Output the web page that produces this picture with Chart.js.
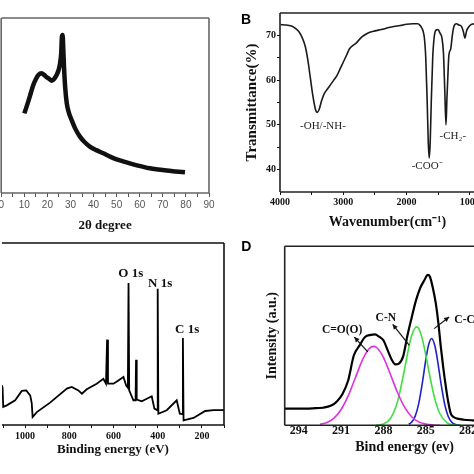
<!DOCTYPE html>
<html><head><meta charset="utf-8">
<script src="https://cdn.jsdelivr.net/npm/chart.js@4"></script>
<style>
html,body{margin:0;padding:0;background:#fff;overflow:hidden;width:474px;height:474px;position:relative}
canvas{position:absolute}
</style></head><body>
<canvas id="ca" width="257" height="237" style="left:-20px;top:0px"></canvas>
<canvas id="cb" width="300" height="237" style="left:237px;top:0px"></canvas>
<canvas id="cc" width="257" height="237" style="left:-20px;top:237px"></canvas>
<canvas id="cd" width="300" height="237" style="left:237px;top:237px"></canvas>
<script>
// ---------- Panel A : XRD ----------
const aTheta = [10.0, 10.8, 11.7, 12.8, 13.9, 15.0, 16.1, 17.5, 18.6, 19.7, 20.8, 21.9, 23.0, 24.0, 24.8, 25.5, 26.0, 26.3, 26.6, 26.9, 27.2, 27.7, 28.4, 29.4, 30.5, 32.2, 34.1, 36.2, 38.4, 41.2, 44.2, 47.0, 50.0, 53.5, 57.2, 60.8, 64.4, 68.0, 71.6, 75.5, 79.6];
const aIntensity = [45.5, 48.5, 52.2, 57.0, 61.7, 65.0, 67.4, 68.4, 67.5, 66.1, 65.2, 64.2, 65.3, 67.4, 70.0, 74.1, 80.0, 89.3, 90.3, 82.0, 72.2, 60.5, 51.2, 45.5, 41.7, 36.5, 32.2, 29.0, 26.5, 24.5, 22.7, 20.9, 19.2, 17.8, 16.4, 15.2, 14.1, 13.4, 12.8, 12.3, 11.8];
const aTicks = [0,5,10,15,20,25,30,35,40,45,50,55,60,65,70,75,80,85,90];
const aTickLabels = ['0','','10','','20','','30','','40','','50','','60','','70','','80','','90'];

// ---------- Panel B : FTIR ----------
const bWavenumber = [3990, 3900, 3800, 3750, 3700, 3650, 3600, 3560, 3520, 3480, 3440, 3410, 3380, 3340, 3300, 3250, 3200, 3150, 3100, 3050, 3000, 2950, 2900, 2850, 2800, 2750, 2700, 2650, 2600, 2500, 2400, 2340, 2300, 2200, 2100, 2000, 1900, 1820, 1790, 1760, 1720, 1695, 1672, 1655, 1640, 1625, 1608, 1585, 1560, 1530, 1500, 1470, 1440, 1415, 1395, 1375, 1360, 1345, 1330, 1300, 1275, 1250, 1210, 1170, 1130, 1100, 1075, 1050, 1020, 980, 930];
const bTransmittance = [72.4, 72.3, 72.0, 71.5, 70.8, 69.5, 67.5, 64.5, 60.5, 56.5, 53.5, 52.8, 53.5, 55.5, 57.0, 58.0, 59.0, 60.0, 61.0, 62.5, 64.0, 65.5, 67.0, 67.7, 68.2, 69.0, 69.7, 70.2, 70.6, 71.0, 71.3, 71.5, 71.7, 72.0, 72.2, 72.5, 72.6, 72.6, 72.3, 71.7, 69.8, 65.0, 55.0, 46.0, 42.6, 46.0, 55.0, 65.0, 69.8, 71.2, 71.3, 70.5, 69.5, 66.0, 58.0, 50.0, 56.0, 61.0, 65.5, 67.0, 70.0, 72.0, 72.6, 72.3, 72.0, 70.8, 69.4, 71.0, 71.8, 72.4, 72.6];
const bXTicks = [4000,3500,3000,2500,2000,1500,1000];
const bXTickLabels = ['4000','','3000','','2000','','1000'];
const bYTicks = [40,45,50,55,60,65,70];
const bYTickLabels = ['40','','50','','60','','70'];
const bPeakNames = ['-OH/-NH-','-COO\u207B','-CH\u2082-'];
const bPeakX = [3321, 1673, 1267];
const bPeakY = [49.7, 40.7, 47.6];

// ---------- Panel C : XPS survey ----------
const cEnergy = [1105, 1102, 1099, 1083, 1045, 1015, 995, 977, 970, 966, 947, 887, 811, 789, 759, 743, 721, 676, 646, 634, 629, 625, 600, 578, 555, 543, 535, 532, 529, 510, 500, 498, 495, 472, 427, 415, 403, 400, 397, 359, 314, 300, 288, 286, 283, 238, 185, 147, 100];
const cCounts = [21.8, 20.5, 10.0, 10.8, 13.6, 18.7, 19.0, 16.3, 12.0, 4.4, 7.1, 12.3, 20.0, 20.9, 19.0, 17.2, 19.6, 22.7, 25.4, 22.7, 46.9, 22.7, 22.7, 24.5, 26.4, 21.8, 20.5, 78.0, 19.0, 13.6, 13.6, 35.9, 14.0, 13.0, 15.8, 9.0, 8.2, 74.9, 6.2, 8.1, 13.6, 6.2, 6.0, 47.8, 2.6, 3.9, 7.7, 8.2, 8.2];
const cTicks = [1100,1000,900,800,700,600,500,400,300,200,100];
const cTickLabels = ['','1000','','800','','600','','400','','200',''];
const cPeakNames = ['O 1s','N 1s','C 1s'];
const cPeakX = [522, 389, 267];
const cPeakY = [83.0, 77.6, 52.4];

// ---------- Panel D : C1s high resolution ----------
const dEnergy = [295.1, 294.0, 293.0, 292.3, 291.7, 291.3, 290.9, 290.5, 290.1, 289.7, 289.3, 288.9, 288.6, 288.3, 288.0, 287.7, 287.4, 287.15, 286.9, 286.6, 286.3, 286.0, 285.7, 285.4, 285.1, 284.85, 284.7, 284.5, 284.28, 284.1, 283.93, 283.75, 283.57, 283.4, 283.22, 283.0, 282.75, 282.3, 281.7, 280.0, 278.0];
const dEnvelope = [9.3, 9.3, 9.5, 9.8, 11.0, 13.3, 17.5, 25.0, 39.0, 44.5, 49.3, 50.5, 50.8, 49.5, 47.5, 42.0, 36.5, 34.0, 34.5, 38.5, 50.0, 60.0, 69.5, 76.5, 81.0, 84.0, 83.0, 77.0, 68.0, 57.0, 44.0, 32.0, 21.5, 13.0, 6.5, 4.5, 3.7, 3.1, 2.8, 2.5, 2.4];
const dCOEnergy = [292.5, 292.0, 291.5, 291.0, 290.5, 290.0, 289.5, 289.0, 288.7, 288.5, 288.0, 287.5, 287.0, 286.5, 286.0, 285.5, 285.0, 284.5, 284.0];
const dCO = [0.5, 1.6, 4.0, 8.8, 16.4, 26.3, 36.3, 42.9, 44.1, 43.6, 38.0, 28.4, 18.3, 10.1, 4.8, 1.9, 0.7, 0.2, 0.0];
const dCNEnergy = [288.5, 288.0, 287.5, 287.0, 286.5, 286.25, 286.0, 285.65, 285.5, 285.25, 285.0, 284.75, 284.5, 284.25, 284.0, 283.5, 283.0, 282.5];
const dCN = [0.1, 0.7, 3.8, 13.2, 31.3, 41.5, 50.0, 55.0, 54.1, 48.5, 39.5, 29.2, 19.6, 11.9, 6.6, 1.5, 0.2, 0.0];
const dCCEnergy = [286.2, 286.0, 285.75, 285.5, 285.25, 285.0, 284.8, 284.58, 284.35, 284.15, 283.9, 283.65, 283.4, 283.15, 282.9, 282.6];
const dCC = [0.6, 1.7, 5.0, 12.0, 23.1, 36.2, 44.8, 48.5, 44.4, 35.7, 22.6, 11.6, 4.9, 1.7, 0.5, 0.0];
const dTicks = [294, 291, 288, 285, 282, 279];
const dTickLabels = ['294','291','288','285','282','279'];
const dPeakNames = ['C=O(O)','C-N','C-C'];
const dPeakX = [290.93, 287.83, 282.97];
const dPeakY = [53.1, 60.0, 58.7];
const dPeakAlign = ['center','center','left'];
const dArrowTailX = [289.11, 286.16, 284.4];
const dArrowTailY = [41.0, 44.7, 54.0];
const dArrowHeadX = [290.06, 287.34, 283.34];
const dArrowHeadY = [49.3, 56.4, 60.5];

// ---------- helpers ----------
const SERIF = 'Liberation Serif';
const pts = (xs, ys) => xs.map((x, i) => ({x: x, y: ys[i]}));

function deco(cfg) {
  return {
    id: 'deco',
    afterDatasetsDraw(chart) {
      const ctx = chart.ctx, a = chart.chartArea;
      const xs = chart.scales.x, ys = chart.scales.y;
      ctx.save();
      if (cfg.frame) {
        const s = cfg.frame.sides;
        ctx.strokeStyle = cfg.frame.color; ctx.lineWidth = cfg.frame.width;
        ctx.beginPath();
        if (s.includes('t')) { ctx.moveTo(a.left, a.top); ctx.lineTo(a.right, a.top); }
        if (s.includes('r')) { ctx.moveTo(a.right, a.top); ctx.lineTo(a.right, a.bottom); }
        if (s.includes('b')) { ctx.moveTo(a.left, a.bottom); ctx.lineTo(a.right, a.bottom); }
        if (s.includes('l')) { ctx.moveTo(a.left, a.top); ctx.lineTo(a.left, a.bottom); }
        ctx.stroke();
      }
      (cfg.labels || []).forEach(l => {
        ctx.font = l.font; ctx.fillStyle = l.color || '#000';
        ctx.textAlign = l.align || 'center'; ctx.textBaseline = 'middle';
        ctx.fillText(l.text, xs.getPixelForValue(l.x), ys.getPixelForValue(l.y));
      });
      (cfg.arrows || []).forEach(r => {
        const x1 = xs.getPixelForValue(r.tx), y1 = ys.getPixelForValue(r.ty);
        const x2 = xs.getPixelForValue(r.hx), y2 = ys.getPixelForValue(r.hy);
        ctx.strokeStyle = '#111'; ctx.fillStyle = '#111'; ctx.lineWidth = 1.2;
        ctx.beginPath(); ctx.moveTo(x1, y1); ctx.lineTo(x2, y2); ctx.stroke();
        const ang = Math.atan2(y2 - y1, x2 - x1), L = 5, W = 2.5;
        ctx.beginPath();
        ctx.moveTo(x2, y2);
        ctx.lineTo(x2 - L * Math.cos(ang) + W * Math.sin(ang), y2 - L * Math.sin(ang) - W * Math.cos(ang));
        ctx.lineTo(x2 - L * Math.cos(ang) - W * Math.sin(ang), y2 - L * Math.sin(ang) + W * Math.cos(ang));
        ctx.closePath(); ctx.fill();
      });
      if (cfg.letter) {
        ctx.font = 'bold 14px Liberation Sans'; ctx.fillStyle = '#000';
        ctx.textAlign = 'center'; ctx.textBaseline = 'middle';
        ctx.fillText(cfg.letter.text, cfg.letter.x, cfg.letter.y);
      }
      ctx.restore();
    }
  };
}

function xAxis(o) {
  return {
    type: 'linear', min: o.min, max: o.max, reverse: !!o.reverse,
    afterBuildTicks: s => { s.ticks = o.ticks.map(v => ({value: v})); },
    afterFit: s => { s.height = o.height; },
    ticks: { autoSkip: false, maxRotation: 0, padding: o.pad,
      font: o.tickFont, color: o.tickColor || '#111',
      callback: (v, i) => o.labels[i] },
    grid: { display: true, drawOnChartArea: false, drawTicks: o.tickLen > 0,
      tickLength: o.tickLen, tickColor: o.tickColor || '#111', tickWidth: 1 },
    border: { display: false },
    title: { display: true, text: o.title, font: o.titleFont, color: '#111',
      padding: {top: 0, bottom: o.titlePad} }
  };
}

Chart.defaults.animation = false;
Chart.defaults.plugins.legend.display = false;
Chart.defaults.plugins.tooltip.enabled = false;

// ---------- Chart A ----------
new Chart(document.getElementById('ca'), {
  type: 'line',
  data: { datasets: [{ data: pts(aTheta, aIntensity), borderColor: '#111', borderWidth: 4.5,
    pointRadius: 0, cubicInterpolationMode: 'monotone' }] },
  options: {
    responsive: false,
    layout: { padding: { left: 21.2, right: 28, top: 18, bottom: 0 } },
    scales: {
      x: xAxis({ min: 0, max: 90, ticks: aTicks, labels: aTickLabels, height: 44, pad: 2,
        tickLen: 4, tickColor: '#555', tickFont: { family: 'Liberation Sans', size: 10 },
        title: '2\u03B8 degree', titleFont: { family: SERIF, size: 13, weight: 'bold' }, titlePad: 4 }),
      y: { display: false, min: 0, max: 100 }
    }
  },
  plugins: [deco({ frame: { sides: 'trbl', color: '#666', width: 1.6 } })]
});

// ---------- Chart B ----------
new Chart(document.getElementById('cb'), {
  type: 'line',
  data: { datasets: [{ data: pts(bWavenumber, bTransmittance), borderColor: '#1a1a1a', borderWidth: 1.6,
    pointRadius: 0, cubicInterpolationMode: 'monotone' }] },
  options: {
    responsive: false,
    layout: { padding: { left: 0, right: 42, top: 13, bottom: 0 } },
    scales: {
      x: xAxis({ min: 600, max: 4000, reverse: true, ticks: bXTicks, labels: bXTickLabels, height: 45, pad: 1,
        tickLen: 3, tickFont: { family: SERIF, size: 10, weight: 'bold' },
        title: 'Wavenumber(cm\u207B\u00B9)', titleFont: { family: SERIF, size: 14, weight: 'bold' }, titlePad: 6 }),
      y: {
        min: 35, max: 75,
        afterBuildTicks: s => { s.ticks = bYTicks.map(v => ({value: v})); },
        afterFit: s => { s.width = 43; },
        ticks: { padding: 1, font: { family: SERIF, size: 10, weight: 'bold' }, color: '#111',
          callback: (v, i) => bYTickLabels[i] },
        grid: { display: true, drawOnChartArea: false, tickLength: 3, tickColor: '#111' },
        border: { display: false },
        title: { display: true, text: 'Transmittance(%)', font: { family: SERIF, size: 15, weight: 'bold' },
          color: '#111', padding: { top: 6, bottom: 0 } }
      }
    }
  },
  plugins: [deco({ frame: { sides: 'tlb', color: '#222', width: 1.6 },
    labels: bPeakNames.map((t, i) => ({ text: t, x: bPeakX[i], y: bPeakY[i], font: '11px Liberation Serif', color: '#222' })),
    letter: { text: 'B', x: 9, y: 20 } })]
});

// ---------- Chart C ----------
new Chart(document.getElementById('cc'), {
  type: 'line',
  data: { datasets: [{ data: pts(cEnergy, cCounts), borderColor: '#000', borderWidth: 1.8,
    pointRadius: 0, tension: 0 }] },
  options: {
    responsive: false,
    layout: { padding: { left: 21.9, right: 13, top: 6, bottom: 0 } },
    scales: {
      x: xAxis({ min: 100, max: 1105, reverse: true, ticks: cTicks, labels: cTickLabels, height: 49, pad: 2,
        tickLen: 3, tickFont: { family: SERIF, size: 10, weight: 'bold' },
        title: 'Binding energy (eV)', titleFont: { family: SERIF, size: 13, weight: 'bold' }, titlePad: 17 }),
      y: { display: false, min: 0, max: 100 }
    }
  },
  plugins: [deco({ frame: { sides: 'trb', color: '#111', width: 1.6 },
    labels: cPeakNames.map((t, i) => ({ text: t, x: cPeakX[i], y: cPeakY[i], font: 'bold 13px Liberation Serif', color: '#111' })) })]
});

// ---------- Chart D ----------
new Chart(document.getElementById('cd'), {
  type: 'line',
  data: { datasets: [
    { data: pts(dCOEnergy, dCO), borderColor: '#e030e0', borderWidth: 1.6, pointRadius: 0, cubicInterpolationMode: 'monotone' },
    { data: pts(dCNEnergy, dCN), borderColor: '#40e040', borderWidth: 1.6, pointRadius: 0, cubicInterpolationMode: 'monotone' },
    { data: pts(dCCEnergy, dCC), borderColor: '#2020c8', borderWidth: 1.6, pointRadius: 0, cubicInterpolationMode: 'monotone' },
    { data: pts(dEnergy, dEnvelope), borderColor: '#000', borderWidth: 2.2, pointRadius: 0, cubicInterpolationMode: 'monotone' }
  ] },
  options: {
    responsive: false,
    layout: { padding: { left: 0, right: 12.6, top: 9.3, bottom: 0 } },
    scales: {
      x: xAxis({ min: 278, max: 295, reverse: true, ticks: dTicks, labels: dTickLabels, height: 48.7, pad: -2,
        tickLen: 0, tickFont: { family: SERIF, size: 12, weight: 'bold' },
        title: 'Bind energy (ev)', titleFont: { family: SERIF, size: 14, weight: 'bold' }, titlePad: 18.6 }),
      y: {
        min: 0, max: 100,
        afterFit: s => { s.width = 47.7; },
        ticks: { display: false },
        grid: { display: false },
        border: { display: false },
        title: { display: true, text: 'Intensity (a.u.)', font: { family: SERIF, size: 14, weight: 'bold' },
          color: '#111', padding: { top: 26.6, bottom: 0 } }
      }
    }
  },
  plugins: [deco({ frame: { sides: 'tlb', color: '#222', width: 1.6 },
    labels: dPeakNames.map((t, i) => ({ text: t, x: dPeakX[i], y: dPeakY[i], align: dPeakAlign[i], font: 'bold 11.5px Liberation Serif', color: '#111' })),
    arrows: dArrowTailX.map((x, i) => ({ tx: x, ty: dArrowTailY[i], hx: dArrowHeadX[i], hy: dArrowHeadY[i] })),
    letter: { text: 'D', x: 9.3, y: 10 } })]
});
</script>
</body></html>
